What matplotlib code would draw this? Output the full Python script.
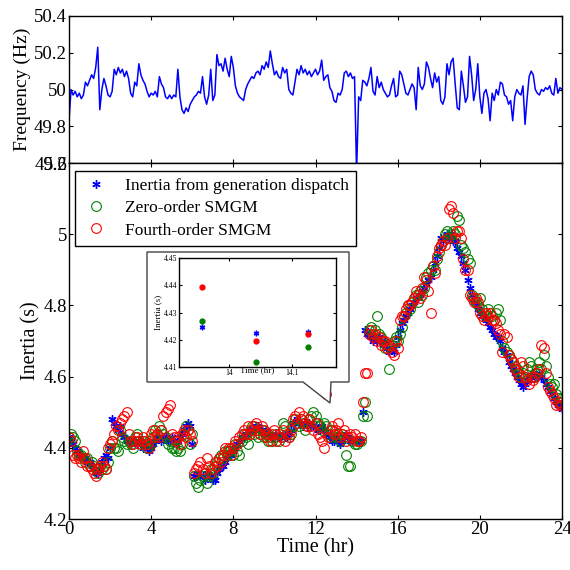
import numpy as np
import matplotlib.pyplot as plt
from matplotlib.patches import Polygon

plt.rcParams['font.family'] = ['Liberation Serif', 'DejaVu Serif']

# sample times, one every 0.1 hr over the day
hours = np.linspace(0, 24, 241)

# grid frequency (Hz)
freq = [
    49.83, 50.00, 49.97, 49.99, 49.96, 49.98, 49.95, 49.97, 50.04, 50.02,
    50.05, 50.08, 50.06, 50.12, 50.23, 49.89, 50.00, 50.06, 50.02, 49.97,
    49.96, 49.99, 50.11, 50.08, 50.12, 50.09, 50.11, 50.07, 50.10, 50.06,
    49.98, 49.96, 50.04, 50.02, 50.14, 50.08, 50.05, 50.03, 49.99, 49.96,
    49.98, 49.97, 49.99, 49.96, 50.07, 50.03, 50.01, 49.96, 49.95, 49.97,
    49.95, 49.97, 49.96, 50.11, 49.96, 49.89, 49.87, 49.90, 49.88, 49.92,
    49.94, 49.96, 49.97, 49.99, 49.98, 50.07, 49.96, 49.92, 49.97, 50.11,
    49.94, 49.97, 50.19, 50.13, 50.14, 50.10, 50.17, 50.11, 50.07, 50.18,
    50.12, 50.02, 49.98, 49.96, 49.95, 49.94, 50.00, 50.03, 50.05, 50.07,
    50.06, 50.09, 50.10, 50.08, 50.13, 50.11, 50.15, 50.12, 50.21, 50.14,
    50.08, 50.10, 50.07, 50.06, 50.12, 50.09, 50.11, 50.00, 49.98, 49.97,
    50.04, 50.11, 50.08, 50.13, 50.09, 50.11, 50.08, 50.10, 50.07, 50.09,
    50.11, 50.08, 50.10, 50.16, 50.05, 50.07, 50.08, 50.01, 49.99, 49.94,
    49.93, 49.98, 49.97, 50.00, 50.09, 50.10, 50.07, 50.09, 50.06, 50.07,
    49.55, 49.96, 49.94, 50.05, 50.04, 50.02, 50.06, 50.12, 49.99, 49.97,
    50.07, 50.01, 50.04, 50.00, 49.98, 49.96, 49.97, 50.02, 50.06, 49.96,
    49.97, 50.10, 50.08, 50.03, 49.98, 49.97, 50.00, 50.03, 50.01, 49.89,
    50.12, 50.02, 50.00, 50.03, 50.15, 50.12, 50.06, 50.01, 50.09, 50.04,
    50.07, 49.94, 49.92, 49.96, 50.14, 50.08, 50.15, 50.17, 50.03, 49.90,
    49.89, 50.10, 50.02, 49.93, 49.96, 50.18, 50.08, 49.94, 50.00, 50.14,
    49.96, 49.87, 49.98, 50.00, 49.95, 49.83, 49.98, 49.94, 50.00, 49.97,
    50.04, 50.03, 49.97, 49.96, 49.92, 49.94, 49.83, 49.96, 50.00, 49.98,
    49.97, 50.02, 49.81, 49.95, 50.07, 50.10, 50.08, 50.00, 49.98, 49.97,
    50.00, 49.99, 50.01, 50.00, 50.02, 49.98, 49.97, 50.06, 49.98, 50.01,
    50.00,
]

# inertia from generation dispatch (s)
inertia_dispatch = [
    4.43, 4.42, 4.41, 4.40, 4.39, 4.38, 4.38, 4.37, 4.37, 4.36,
    4.36, 4.35, 4.34, 4.33, 4.33, 4.34, 4.36, 4.37, 4.38, 4.37,
    4.40, 4.48, 4.47, 4.46, 4.45, 4.46, 4.44, 4.43, 4.42, 4.42,
    4.41, 4.42, 4.42, 4.41, 4.42, 4.41, 4.40, 4.41, 4.40, 4.39,
    4.40, 4.41, 4.42, 4.43, 4.43, 4.42, 4.43, 4.43, 4.42, 4.42,
    4.43, 4.42, 4.41, 4.42, 4.43, 4.44, 4.45, 4.46, 4.47, 4.46,
    4.41, 4.32, 4.32, 4.33, 4.32, 4.32, 4.31, 4.33, 4.32, 4.32,
    4.31, 4.31, 4.33, 4.34, 4.35, 4.35, 4.36, 4.37, 4.38, 4.38,
    4.39, 4.40, 4.41, 4.42, 4.43, 4.43, 4.44, 4.44, 4.45, 4.45,
    4.45, 4.46, 4.46, 4.45, 4.45, 4.44, 4.45, 4.44, 4.44, 4.43,
    4.43, 4.44, 4.43, 4.43, 4.44, 4.43, 4.43, 4.44, 4.45, 4.47,
    4.47, 4.48, 4.47, 4.47, 4.46, 4.47, 4.46, 4.47, 4.46, 4.46,
    4.46, 4.45, 4.45, 4.46, 4.45, 4.44, 4.44, 4.43, 4.42, 4.42,
    4.43, 4.42, 4.41, 4.42, 4.43, 4.44, 4.43, 4.42, 4.42, 4.42,
    4.42, 4.42, 4.42, 4.50, 4.73, 4.72, 4.72, 4.71, 4.70, 4.71,
    4.70, 4.71, 4.70, 4.69, 4.70, 4.68, 4.67, 4.68, 4.67, 4.69,
    4.71, 4.73, 4.75, 4.76, 4.77, 4.78, 4.79, 4.80, 4.81, 4.82,
    4.82, 4.83, 4.84, 4.85, 4.86, 4.87, 4.88, 4.90, 4.92, 4.94,
    4.96, 4.99, 4.98, 4.99, 5.00, 4.99, 5.00, 4.98, 4.98, 4.96,
    4.95, 4.94, 4.92, 4.90, 4.87, 4.85, 4.83, 4.81, 4.80, 4.79,
    4.78, 4.77, 4.77, 4.76, 4.75, 4.74, 4.73, 4.72, 4.71, 4.71,
    4.70, 4.68, 4.67, 4.66, 4.64, 4.63, 4.62, 4.61, 4.60, 4.59,
    4.58, 4.57, 4.58, 4.59, 4.60, 4.60, 4.61, 4.60, 4.60, 4.61,
    4.60, 4.59, 4.58, 4.57, 4.56, 4.55, 4.54, 4.53, 4.52, 4.52,
    4.51,
]

# zero-order SMGM estimate (s)
inertia_zero = [
    4.43, 4.44, 4.43, 4.42, 4.39, 4.38, 4.38, 4.37, 4.36, 4.37,
    4.35, 4.36, 4.35, 4.34, 4.33, 4.35, 4.34, 4.35, 4.34, 4.36,
    4.40, 4.42, 4.40, 4.40, 4.39, 4.45, 4.43, 4.42, 4.41, 4.42,
    4.41, 4.40, 4.43, 4.44, 4.42, 4.41, 4.42, 4.41, 4.40, 4.42,
    4.41, 4.43, 4.45, 4.44, 4.46, 4.45, 4.44, 4.43, 4.41, 4.42,
    4.40, 4.40, 4.39, 4.40, 4.39, 4.41, 4.44, 4.46, 4.45, 4.41,
    4.44, 4.32, 4.30, 4.29, 4.31, 4.32, 4.33, 4.30, 4.32, 4.34,
    4.33, 4.35, 4.36, 4.37, 4.38, 4.37, 4.39, 4.38, 4.39, 4.40,
    4.38, 4.41, 4.39, 4.38, 4.42, 4.44, 4.43, 4.41, 4.45, 4.46,
    4.44, 4.45, 4.43, 4.44, 4.45, 4.43, 4.44, 4.42, 4.43, 4.42,
    4.43, 4.44, 4.42, 4.43, 4.47, 4.46, 4.44, 4.43, 4.44, 4.46,
    4.48, 4.47, 4.46, 4.48, 4.47, 4.45, 4.46, 4.48, 4.49, 4.50,
    4.49, 4.47, 4.46, 4.45, 4.47, 4.46, 4.44, 4.43, 4.45, 4.44,
    4.43, 4.44, 4.42, 4.44, 4.43, 4.38, 4.35, 4.35, 4.42, 4.41,
    4.41, 4.42, 4.42, 4.49, 4.53, 4.49, 4.73, 4.74, 4.72, 4.73,
    4.77, 4.72, 4.71, 4.70, 4.68, 4.69, 4.62, 4.69, 4.70, 4.71,
    4.70, 4.72, 4.74, 4.77, 4.78, 4.80, 4.79, 4.81, 4.82, 4.83,
    4.81, 4.84, 4.83, 4.85, 4.88, 4.89, 4.90, 4.91, 4.90, 4.93,
    4.95, 4.97, 4.98, 5.00, 5.01, 4.99, 5.00, 5.01, 5.00, 5.05,
    5.04, 4.97, 4.96, 4.95, 4.93, 4.92, 4.83, 4.82, 4.81, 4.80,
    4.82, 4.79, 4.78, 4.77, 4.79, 4.78, 4.77, 4.76, 4.78, 4.79,
    4.76, 4.70, 4.68, 4.67, 4.66, 4.65, 4.64, 4.63, 4.62, 4.61,
    4.60, 4.61, 4.60, 4.62, 4.64, 4.63, 4.60, 4.61, 4.62, 4.64,
    4.62, 4.66, 4.63, 4.60, 4.58, 4.57, 4.58, 4.55, 4.54, 4.53,
    4.54,
]

# fourth-order SMGM estimate (s)
inertia_fourth = [
    4.43, 4.42, 4.38, 4.37, 4.38, 4.37, 4.36, 4.39, 4.37, 4.35,
    4.35, 4.34, 4.33, 4.32, 4.34, 4.35, 4.36, 4.35, 4.34, 4.40,
    4.41, 4.42, 4.44, 4.46, 4.45, 4.47, 4.48, 4.49, 4.50, 4.44,
    4.42, 4.41, 4.42, 4.43, 4.42, 4.41, 4.43, 4.42, 4.41, 4.40,
    4.44, 4.45, 4.43, 4.44, 4.43, 4.45, 4.49, 4.50, 4.51, 4.52,
    4.44, 4.43, 4.42, 4.43, 4.41, 4.44, 4.45, 4.43, 4.45, 4.44,
    4.42, 4.33, 4.34, 4.35, 4.36, 4.34, 4.33, 4.37, 4.35, 4.33,
    4.34, 4.36, 4.35, 4.37, 4.36, 4.38, 4.40, 4.39, 4.40, 4.38,
    4.40, 4.42, 4.41, 4.43, 4.44, 4.45, 4.44, 4.46, 4.44, 4.45,
    4.46, 4.47, 4.45, 4.44, 4.46, 4.45, 4.43, 4.44, 4.42, 4.44,
    4.45, 4.42, 4.44, 4.43, 4.45, 4.42, 4.44, 4.43, 4.45, 4.48,
    4.49, 4.47, 4.50, 4.48, 4.49, 4.47, 4.46, 4.48, 4.46, 4.45,
    4.47, 4.44, 4.43, 4.42, 4.40, 4.55, 4.43, 4.45, 4.46, 4.44,
    4.45, 4.47, 4.43, 4.44, 4.45, 4.42, 4.43, 4.44, 4.43, 4.44,
    4.42, 4.42, 4.43, 4.53, 4.61, 4.61, 4.72, 4.73, 4.71, 4.72,
    4.70, 4.71, 4.69, 4.70, 4.70, 4.68, 4.69, 4.67, 4.66, 4.70,
    4.68, 4.76, 4.77, 4.77, 4.79, 4.80, 4.80, 4.81, 4.82, 4.84,
    4.83, 4.82, 4.85, 4.88, 4.87, 4.84, 4.78, 4.91, 4.89, 4.94,
    4.96, 4.97, 4.98, 4.97, 4.99, 5.07, 5.08, 5.06, 4.99, 5.01,
    5.01, 4.99, 4.93, 4.90, 4.90, 4.83, 4.82, 4.81, 4.82, 4.81,
    4.78, 4.77, 4.76, 4.78, 4.77, 4.78, 4.76, 4.76, 4.75, 4.73,
    4.72, 4.67, 4.72, 4.71, 4.66, 4.65, 4.64, 4.62, 4.61, 4.60,
    4.64, 4.63, 4.60, 4.59, 4.58, 4.60, 4.59, 4.60, 4.61, 4.62,
    4.69, 4.68, 4.61, 4.57, 4.56, 4.55, 4.54, 4.52, 4.53, 4.52,
    4.52,
]

# zoomed samples around 14 hr
zoom_hours = [13.957, 14.042, 14.126]
zoom_dispatch = [4.4245, 4.4225, 4.4228]
zoom_zero = [4.427, 4.412, 4.4175]
zoom_fourth = [4.4395, 4.4195, 4.422]

legend_labels = ['Inertia from generation dispatch', 'Zero-order SMGM',
                 'Fourth-order SMGM']

W = 570.0
star = (6, 2, 0)


def style_axes(ax, size, pad, length):
    ax.tick_params(direction='in', top=True, right=True, length=length,
                   width=0.8, labelsize=size, pad=pad)
    for s in ax.spines.values():
        s.set_linewidth(1.0)


fig = plt.figure(figsize=(5.7, 5.7), dpi=100)

# frequency panel
ax1 = fig.add_axes([69 / W, 1 - 163 / W, 493 / W, 147 / W])
ax1.plot(hours, freq, color='#0000ff', lw=1.1)
ax1.set_xlim(0, 24)
ax1.set_ylim(49.6, 50.4)
ax1.set_xticks(range(0, 25, 4))
ax1.set_yticks([49.6, 49.8, 50.0, 50.2, 50.4])
ax1.set_yticklabels(['49.6', '49.8', '50', '50.2', '50.4'])
style_axes(ax1, 13.5, 1.5, 3)
ax1.tick_params(labelbottom=False)
ax1.set_ylabel('Frequency (Hz)', fontsize=14, labelpad=2)

# inertia panel
ax2 = fig.add_axes([69 / W, 1 - 519 / W, 493 / W, 356 / W])
ax2.plot(hours, inertia_dispatch, ls='none', marker=star, ms=6, mew=1.0,
         color='#0000ff', label=legend_labels[0])
ax2.plot(hours, inertia_zero, ls='none', marker='o', ms=7, mew=0.8,
         mfc='none', mec='#008000', label=legend_labels[1])
ax2.plot(hours, inertia_fourth, ls='none', marker='o', ms=7, mew=0.8,
         mfc='none', mec='#ff0000', label=legend_labels[2])
ax2.set_xlim(0, 24)
ax2.set_ylim(4.2, 5.2)
ax2.set_xticks(range(0, 25, 4))
ax2.set_yticks([4.2, 4.4, 4.6, 4.8, 5.0, 5.2])
ax2.set_yticklabels(['4.2', '4.4', '4.6', '4.8', '5', '5.2'])
style_axes(ax2, 13.5, 1.5, 3)
ax2.set_xlabel('Time (hr)', fontsize=14.5, labelpad=0)
ax2.set_ylabel('Inertia (s)', fontsize=14.5, labelpad=2)

leg = ax2.legend(loc='upper left', bbox_to_anchor=(6 / 493, 348 / 356),
                 borderaxespad=0, fontsize=12.5, fancybox=False,
                 framealpha=1, edgecolor='black', handlelength=1.6,
                 handletextpad=0.9, labelspacing=0.35, borderpad=0.4)
leg.get_frame().set_linewidth(1.0)

# callout box around the zoomed view
pts = [(147, 252), (349, 252), (349, 382), (331, 382), (330, 403),
       (303, 382), (147, 382)]
callout = Polygon([(x / W, 1 - y / W) for x, y in pts], closed=True,
                  transform=fig.transFigure, facecolor='white',
                  edgecolor='#444444', lw=1.0, zorder=1)
fig.patches.append(callout)

ax3 = fig.add_axes([179 / W, 1 - 367 / W, 157 / W, 109 / W])
ax3.set_zorder(2)
ax3.plot(zoom_hours, zoom_dispatch, ls='none', marker=star, ms=4, mew=1.0,
         color='#0000ff')
ax3.plot(zoom_hours, zoom_zero, ls='none', marker='o', ms=3.5,
         color='#008000')
ax3.plot(zoom_hours, zoom_fourth, ls='none', marker='o', ms=3.5,
         color='#ff0000')
ax3.set_xlim(13.92, 14.17)
ax3.set_ylim(4.41, 4.45)
ax3.set_xticks([14.0, 14.1])
ax3.set_xticklabels(['14', '14.1'])
ax3.set_yticks([4.41, 4.42, 4.43, 4.44, 4.45])
style_axes(ax3, 5.5, 1.5, 2)
ax3.set_xlabel('Time (hr)', fontsize=6.5, labelpad=-8)
ax3.set_ylabel('Inertia (s)', fontsize=6.5, labelpad=1)

fig.savefig('out.png', dpi=100)
